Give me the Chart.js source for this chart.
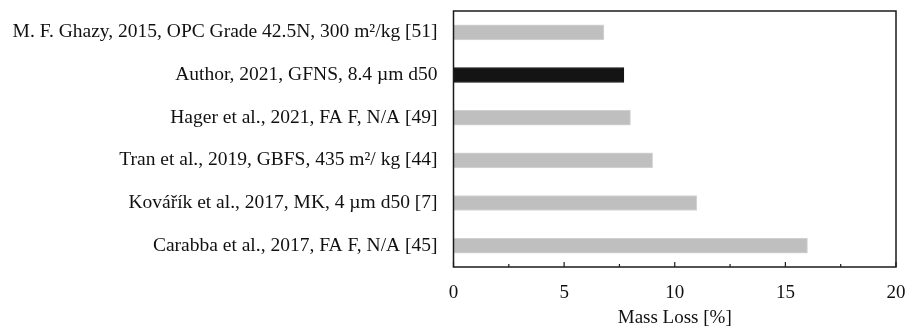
<!DOCTYPE html>
<html>
<head>
<meta charset="utf-8">
<script src="https://cdn.jsdelivr.net/npm/chart.js@4"></script>
<style>
  html, body { margin: 0; padding: 0; background: #fff; }
  #wrap { width: 916px; height: 332px; }
</style>
</head>
<body>
<div id="wrap"><canvas id="c" width="916" height="332"></canvas></div>
<script>
// Studies compared, top to bottom
const categories = [
  'M. F. Ghazy, 2015, OPC Grade 42.5N, 300 m²/kg [51]',
  'Author, 2021, GFNS, 8.4 µm d50',
  'Hager et al., 2021, FA F, N/A [49]',
  'Tran et al., 2019, GBFS, 435 m²/ kg [44]',
  'Kovářík et al., 2017, MK, 4 µm d50 [7]',
  'Carabba et al., 2017, FA F, N/A [45]'
];
// Mass loss in percent
const massLoss = [6.8, 7.7, 8.0, 9.0, 11.0, 16.0];
const highlighted = [false, true, false, false, false, false];
// Axis range and labelled ticks
const xMin = 0, xMax = 20, xStep = 2.5;
const xLabels = [0, 5, 10, 15, 20];

const SERIF = '"Liberation Serif", "Times New Roman", serif';

// Frame around the plot area and inward ticks along the bottom axis
const framePlugin = {
  id: 'frame',
  afterDraw(chart) {
    const { ctx, chartArea: a } = chart;
    const xs = chart.scales.x;
    ctx.save();
    ctx.strokeStyle = '#1a1a1a';
    ctx.lineWidth = 1.5;
    ctx.strokeRect(a.left, a.top, a.right - a.left, a.bottom - a.top);
    ctx.lineWidth = 1.2;
    xs.ticks.forEach(t => {
      const px = xs.getPixelForValue(t.value);
      const len = xLabels.includes(t.value) ? 5 : 3;
      ctx.beginPath();
      ctx.moveTo(px, a.bottom);
      ctx.lineTo(px, a.bottom - len);
      ctx.stroke();
    });
    ctx.restore();
  }
};

new Chart(document.getElementById('c'), {
  type: 'bar',
  data: {
    labels: categories,
    datasets: [{
      data: massLoss,
      backgroundColor: highlighted.map(h => h ? '#141414' : '#bfbfbf'),
      borderColor: highlighted.map(h => h ? '#141414' : '#d6d6d6'),
      borderWidth: 1,
      borderSkipped: false,
      barThickness: 15
    }]
  },
  options: {
    indexAxis: 'y',
    responsive: false,
    animation: false,
    events: [],
    layout: { padding: { top: 11, right: 20, left: 0, bottom: 0 } },
    plugins: { legend: { display: false }, tooltip: { enabled: false } },
    scales: {
      x: {
        type: 'linear',
        min: xMin,
        max: xMax,
        grid: { display: false, drawTicks: false },
        border: { display: false },
        ticks: {
          stepSize: xStep,
          autoSkip: false,
          maxRotation: 0,
          padding: 15,
          color: '#111',
          font: { family: SERIF, size: 19 },
          callback: v => xLabels.includes(v) ? String(v) : ''
        },
        title: {
          display: true,
          text: 'Mass Loss [%]',
          color: '#111',
          font: { family: SERIF, size: 19 },
          padding: { top: 0, bottom: 3 }
        },
        afterFit(s) { s.height = 65; s.paddingLeft = 0; s.paddingRight = 0; }
      },
      y: {
        grid: { display: false, drawTicks: false },
        border: { display: false },
        ticks: {
          padding: 16,
          color: '#111',
          font: { family: SERIF, size: 19.5 }
        },
        afterFit(s) { s.width = 453.5; s.paddingTop = 0; s.paddingBottom = 0; }
      }
    }
  },
  plugins: [framePlugin]
});
</script>
</body>
</html>
